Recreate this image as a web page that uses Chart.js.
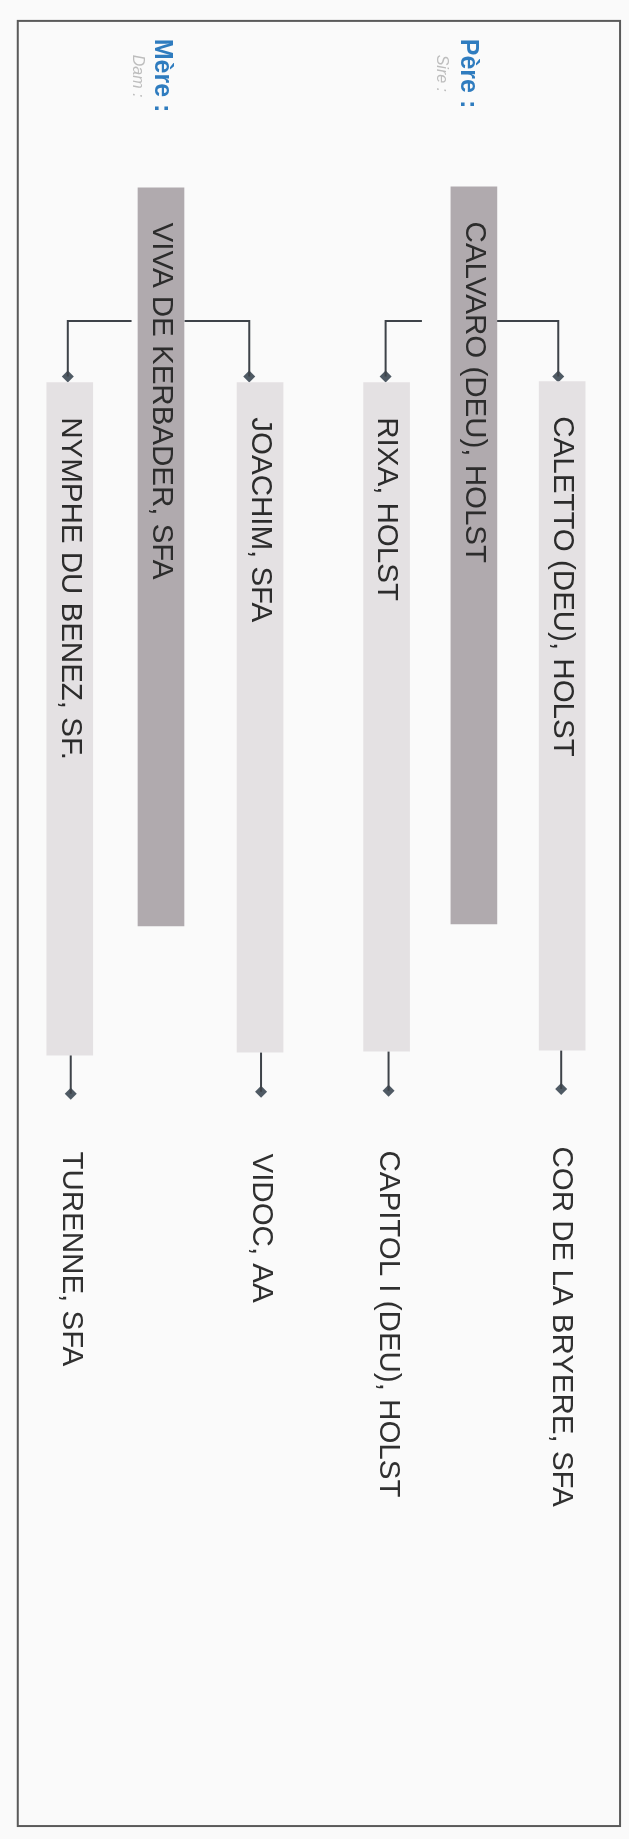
<!DOCTYPE html>
<html>
<head>
<meta charset="utf-8">
<script src="https://cdn.jsdelivr.net/npm/chart.js@4"></script>
<style>
  html, body { margin: 0; padding: 0; background: #fafafa; }
  #wrap { width: 629px; height: 1839px; position: relative; }
</style>
</head>
<body>
<div id="wrap"><canvas id="pedigree"></canvas></div>
<script>
// parents (sire, dam)
const parentNames = ["CALVARO (DEU), HOLST", "VIVA DE KERBADER, SFA"];
const parentPos = [477, 158];
const parentSpan = [[182, 924], [183, 926]];
const headerNames = ["Père :", "Mère :"];
const headerSub = ["Sire :", "Dam :"];
const headerPos = [471, 159];
const headerSubPos = [444, 134];

// grandparents, each linked to a parent
const grandNames = ["CALETTO (DEU), HOLST", "RIXA, HOLST", "JOACHIM, SFA", "NYMPHE DU BENEZ, SF."];
const grandPos = [567, 388, 259, 65];
const grandSpan = [[378, 1051], [379, 1052], [379, 1053], [379, 1056]];
const branchFrom = [499, 424, 182, 128];
const branchTo = [563, 387, 248, 63];
const branchLevel = 317;
const branchEnd = 373;

// great-grandparents shown after the grandparent bars
const greatNames = ["COR DE LA BRYERE, SFA", "CAPITOL I (DEU), HOLST", "VIDOC, AA", "TURENNE, SFA"];
const greatPos = [566, 390, 260, 66];
const greatMark = [1090, 1092, 1093, 1095];
const greatText = [1148, 1152, 1155, 1153];

const frameBox = { left: 12, right: 626, top: 15, bottom: 1832 };

const LINE = "#3e4349";
const DIAMOND = "#4f5a64";
const FONT = "'Liberation Sans', Arial, sans-serif";

// connectors: bracket from parent bar, stem below grandparent bar
const brackets = grandNames.map((n, i) => ({
  type: "line",
  data: [
    { x: branchFrom[i], y: branchLevel },
    { x: branchTo[i], y: branchLevel },
    { x: branchTo[i], y: branchEnd }
  ],
  borderColor: LINE, borderWidth: 2, pointRadius: 0, fill: false
}));
const stems = grandNames.map((n, i) => ({
  type: "line",
  data: [
    { x: greatPos[i], y: grandSpan[i][1] },
    { x: greatPos[i], y: greatMark[i] }
  ],
  borderColor: LINE, borderWidth: 2, pointRadius: 0, fill: false
}));

const diamonds = {
  type: "line",
  showLine: false,
  data: branchTo.map(x => ({ x: x, y: branchEnd }))
    .concat(greatPos.map((x, i) => ({ x: x, y: greatMark[i] }))),
  pointStyle: "rectRot",
  pointRadius: 6,
  pointBackgroundColor: DIAMOND,
  pointBorderColor: DIAMOND,
  pointBorderWidth: 0
};

function rotText(ctx, text, x, y, font, color) {
  ctx.save();
  ctx.translate(x, y);
  ctx.rotate(Math.PI / 2);
  ctx.font = font;
  ctx.fillStyle = color;
  ctx.textAlign = "left";
  ctx.textBaseline = "middle";
  ctx.fillText(text, 0, 0);
  ctx.restore();
}

const framePlugin = {
  id: "frame",
  beforeDraw(chart) {
    const { ctx, scales: { x, y } } = chart;
    ctx.save();
    ctx.fillStyle = "#fafafa";
    ctx.fillRect(0, 0, chart.width, chart.height);
    ctx.strokeStyle = "#5a5a5a";
    ctx.lineWidth = 2;
    ctx.strokeRect(x.getPixelForValue(frameBox.left), y.getPixelForValue(frameBox.top),
      x.getPixelForValue(frameBox.right) - x.getPixelForValue(frameBox.left),
      y.getPixelForValue(frameBox.bottom) - y.getPixelForValue(frameBox.top));
    ctx.restore();
  }
};

const labelPlugin = {
  id: "labels",
  afterDatasetsDraw(chart) {
    const { ctx, scales: { x, y } } = chart;
    const barFont = "29.5px " + FONT;
    parentNames.forEach((name, i) => {
      rotText(ctx, name, x.getPixelForValue(parentPos[i]), y.getPixelForValue(parentSpan[i][0] + 35), barFont, "#2c2c2c");
      rotText(ctx, headerNames[i], x.getPixelForValue(headerPos[i]), y.getPixelForValue(33), "bold 25px " + FONT, "#2f7cbf");
      rotText(ctx, headerSub[i], x.getPixelForValue(headerSubPos[i]), y.getPixelForValue(49), "italic 16px " + FONT, "#bdbdbd");
    });
    grandNames.forEach((name, i) => {
      rotText(ctx, name, x.getPixelForValue(grandPos[i]), y.getPixelForValue(grandSpan[i][0] + 35), barFont, "#2c2c2c");
    });
    greatNames.forEach((name, i) => {
      rotText(ctx, name, x.getPixelForValue(greatPos[i]), y.getPixelForValue(greatText[i]), barFont, "#303030");
    });
  }
};

new Chart(document.getElementById("pedigree"), {
  type: "bar",
  data: {
    datasets: [
      {
        label: "parents",
        data: parentPos.map((p, i) => ({ x: p, y: parentSpan[i] })),
        backgroundColor: "#b0aaae",
        barThickness: 46,
        grouped: false
      },
      {
        label: "grandparents",
        data: grandPos.map((p, i) => ({ x: p, y: grandSpan[i] })),
        backgroundColor: "#e4e1e3",
        barThickness: 46,
        grouped: false
      },
      ...brackets,
      ...stems,
      diamonds
    ]
  },
  options: {
    responsive: true,
    maintainAspectRatio: false,
    animation: false,
    layout: { padding: 0 },
    plugins: { legend: { display: false }, tooltip: { enabled: false } },
    scales: {
      x: { type: "linear", min: 0, max: 629, offset: false, display: false },
      y: { type: "linear", min: 0, max: 1839, reverse: true, display: false }
    }
  },
  plugins: [framePlugin, labelPlugin]
});
</script>
</body>
</html>
